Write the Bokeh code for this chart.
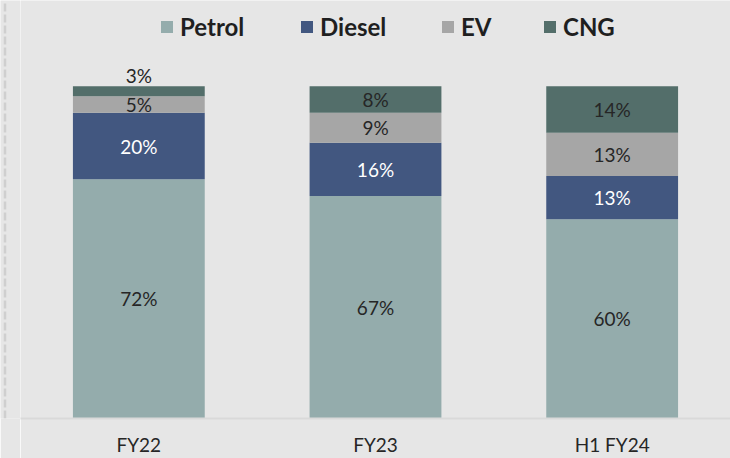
from bokeh.plotting import figure
from bokeh.layouts import row
from bokeh.models import ColumnDataSource, Legend, LegendItem, FactorRange, Range1d
from bokeh.embed import file_html
from bokeh.resources import INLINE
from bokeh.core.properties import value

# ---- data ----
categories = ["FY22", "FY23", "H1 FY24"]
series = ["Petrol", "Diesel", "EV", "CNG"]
petrol = [72, 67, 60]
diesel = [20, 16, 13]
ev = [5, 9, 13]
cng = [3, 8, 14]

colors = ["#94ACAC", "#425780", "#A6A6A6", "#536E6A"]
label_colors = ["#262626", "#FFFFFF", "#262626", "#262626"]
BG = "#E6E6E6"

src = ColumnDataSource(dict(cat=categories, Petrol=petrol, Diesel=diesel, EV=ev, CNG=cng))

p = figure(x_range=FactorRange(*categories), y_range=Range1d(0, 125.8),
           width=710, height=458, output_backend="svg", toolbar_location=None,
           min_border_left=0, min_border_right=0, min_border_top=0, min_border_bottom=40)
p.background_fill_color = BG
p.border_fill_color = BG
p.outline_line_color = None
p.xgrid.visible = False
p.ygrid.visible = False
p.yaxis.visible = False

rs = p.vbar_stack(series, x="cat", width=0.557, color=colors, line_color=None, source=src)

# data labels
lx, ly, lt, lc = [], [], [], []
vals = [petrol, diesel, ev, cng]
for i, c in enumerate(categories):
    base = 0
    for j, s in enumerate(series):
        v = vals[j][i]
        if v < 4:
            y = base + v + 3.3
        else:
            y = base + v / 2
        lx.append(c); ly.append(y); lt.append(f"{v}%"); lc.append(label_colors[j])
        base += v
lsrc = ColumnDataSource(dict(x=lx, y=ly, t=lt, c=lc))
p.text(x="x", y="y", text="t", text_color="c", source=lsrc, text_align="center",
       text_baseline="middle", text_font=value("Lato"), text_font_size="19px")

ax = p.xaxis[0]
ax.axis_line_color = "#D9D9D9"
ax.axis_line_width = 2
ax.major_tick_line_color = None
ax.minor_tick_line_color = None
ax.major_label_text_font = "Lato"
ax.major_label_text_font_size = "19px"
ax.major_label_text_color = "#262626"
ax.major_label_standoff = 8

# legend: one entry per series, placed along the top
legend_x = [139, 279, 420, 522]
for s, r, lxpos in zip(series, rs, legend_x):
    lg = Legend(items=[LegendItem(label=s, renderers=[r])],
                orientation="horizontal", location=(lxpos, 377),
                padding=0, margin=0, spacing=0, label_standoff=6,
                glyph_width=15, glyph_height=15,
                label_text_font="Lato", label_text_font_style="bold",
                label_text_font_size="24px", label_text_color="#1F1F1F",
                background_fill_alpha=0, border_line_color=None)
    p.add_layout(lg)

# thin left strip carrying the dashed border of the chart area
left = figure(width=20, height=458, x_range=Range1d(0, 20), y_range=Range1d(0, 458),
              output_backend="svg", toolbar_location=None,
              min_border_left=0, min_border_right=0, min_border_top=0, min_border_bottom=0)
left.background_fill_color = BG
left.border_fill_color = BG
left.outline_line_color = None
left.xaxis.visible = False
left.yaxis.visible = False
left.xgrid.visible = False
left.ygrid.visible = False
left.segment(x0=[4.5], y0=[0], x1=[4.5], y1=[458], line_color="#CFCFCF",
             line_width=2.5, line_dash="8 3")

layout = row(left, p, spacing=0)

open("out.html", "w").write(file_html(layout, INLINE))
